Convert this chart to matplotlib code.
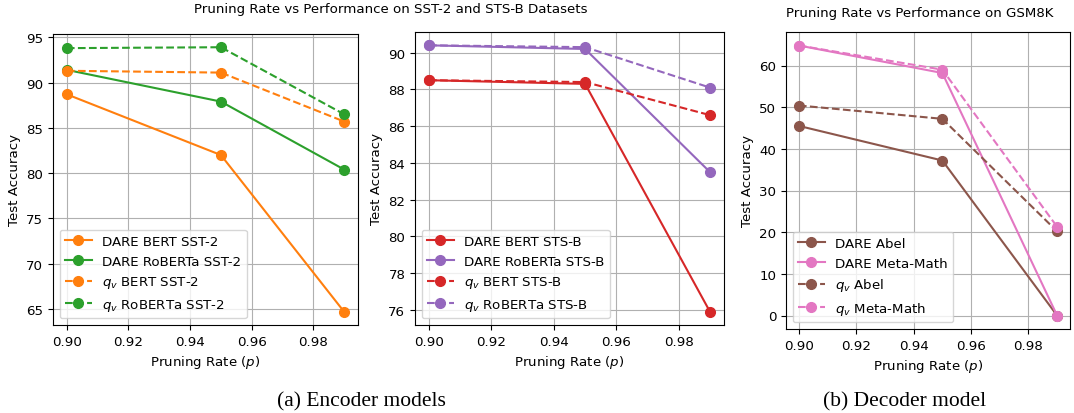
import matplotlib
matplotlib.use('Agg')
import matplotlib.pyplot as plt

# pruning rates
rates = [0.90, 0.95, 0.99]

# SST-2
dare_bert_sst2 = [88.7, 82.0, 64.7]
dare_roberta_sst2 = [91.4, 87.9, 80.4]
qv_bert_sst2 = [91.3, 91.1, 85.7]
qv_roberta_sst2 = [93.8, 93.9, 86.5]

# STS-B
dare_bert_stsb = [88.5, 88.3, 75.9]
dare_roberta_stsb = [90.4, 90.2, 83.5]
qv_bert_stsb = [88.5, 88.4, 86.6]
qv_roberta_stsb = [90.4, 90.3, 88.1]

# GSM8K
dare_abel = [45.5, 37.2, 0.0]
dare_metamath = [64.8, 58.2, 0.0]
qv_abel = [50.4, 47.2, 20.2]
qv_metamath = [64.8, 59.0, 21.3]

fs = 9.6
plt.rcParams['font.size'] = fs

fig = plt.figure(figsize=(10.74, 4.14), dpi=100)
ax1 = fig.add_axes([53/1074, 88/414, 305/1074, 291/414])
ax2 = fig.add_axes([415/1074, 88/414, 309/1074, 293/414])
ax3 = fig.add_axes([786/1074, 84/414, 284/1074, 297/414])


def draw(ax, series):
    for vals, color, ls, label in series:
        ax.plot(rates, vals, marker='o', markersize=7, color=color, linestyle=ls, label=label)
    ax.set_xlabel('Pruning Rate ($p$)', fontsize=fs)
    ax.set_ylabel('Test Accuracy', fontsize=fs)
    ax.set_xticks([0.90, 0.92, 0.94, 0.96, 0.98])
    ax.grid(True)
    ax.legend(loc='lower left', fontsize=fs)


draw(ax1, [
    (dare_bert_sst2, 'tab:orange', '-', 'DARE BERT SST-2'),
    (dare_roberta_sst2, 'tab:green', '-', 'DARE RoBERTa SST-2'),
    (qv_bert_sst2, 'tab:orange', '--', '$q_v$ BERT SST-2'),
    (qv_roberta_sst2, 'tab:green', '--', '$q_v$ RoBERTa SST-2'),
])
draw(ax2, [
    (dare_bert_stsb, 'tab:red', '-', 'DARE BERT STS-B'),
    (dare_roberta_stsb, 'tab:purple', '-', 'DARE RoBERTa STS-B'),
    (qv_bert_stsb, 'tab:red', '--', '$q_v$ BERT STS-B'),
    (qv_roberta_stsb, 'tab:purple', '--', '$q_v$ RoBERTa STS-B'),
])
draw(ax3, [
    (dare_abel, 'tab:brown', '-', 'DARE Abel'),
    (dare_metamath, 'tab:pink', '-', 'DARE Meta-Math'),
    (qv_abel, 'tab:brown', '--', '$q_v$ Abel'),
    (qv_metamath, 'tab:pink', '--', '$q_v$ Meta-Math'),
])

fig.text(391/1074, 1 - 9/414, 'Pruning Rate vs Performance on SST-2 and STS-B Datasets',
         ha='center', va='center', fontsize=fs)
fig.text(920/1074, 1 - 13/414, 'Pruning Rate vs Performance on GSM8K',
         ha='center', va='center', fontsize=fs)

fig.text(361/1074, 1 - 402/414, '(a) Encoder models', ha='center', va='center',
         fontsize=15.5, family='Liberation Serif')
fig.text(905/1074, 1 - 402/414, '(b) Decoder model', ha='center', va='center',
         fontsize=15.5, family='Liberation Serif')

plt.savefig('out.png', dpi=100)
